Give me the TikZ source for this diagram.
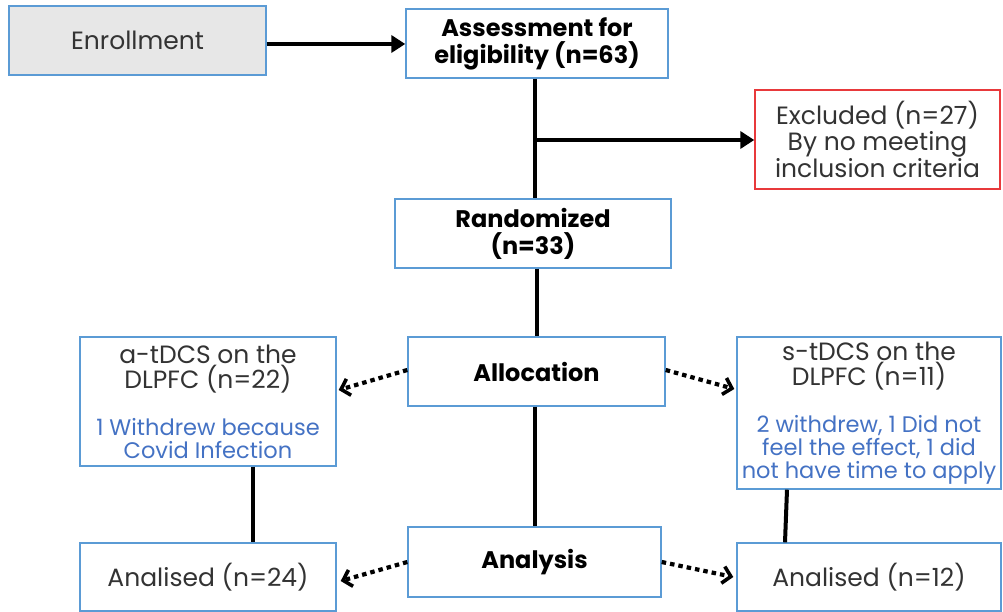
\documentclass[tikz,border=0pt]{standalone}
\usepackage{fontspec}
\setmainfont{Poppins}
\usetikzlibrary{arrows.meta}
\definecolor{boxblue}{HTML}{5B9BD5}
\definecolor{noteblue}{HTML}{4472C4}
\definecolor{exred}{HTML}{E8393B}
\definecolor{enrgray}{HTML}{E7E7E7}
\definecolor{txt}{HTML}{333333}
\newcommand{\notefont}{\fontsize{22.5}{23}\selectfont\color{noteblue}}
\begin{document}
\begin{tikzpicture}[x=1pt,y=-1pt,
  box/.style={draw=boxblue,line width=1.4pt,fill=white,inner sep=0pt,align=center,
    font=\fontsize{25}{25.5}\selectfont,text=txt},
  hdr/.style={box,font=\fontsize{24}{27}\bfseries\selectfont,text=black},
  link/.style={line width=4pt,black},
  solidarrow/.style={link,-{Triangle[length=14pt,width=17pt]}},
  dotarrow/.style={line width=4.2pt,black,dash pattern=on 4.5pt off 4pt,
    -{Straight Barb[length=8pt,width=17pt,line width=3.6pt]}}]
\useasboundingbox (0,0) rectangle (1003,612);
\fill[white] (0,0) rectangle (1003,612);

\node[box,fill=enrgray,minimum width=257pt,minimum height=69pt] (enr) at (137.5,40.5) {Enrollment};
\node[hdr,minimum width=262pt,minimum height=69pt] (assess) at (537,43.5) {Assessment for\\eligibility (n=63)};
\node[box,draw=exred,minimum width=245pt,minimum height=99pt] (excl) at (877.5,139.5) {Excluded (n=27)\\By no meeting\\inclusion criteria};
\node[hdr,minimum width=276pt,minimum height=69pt] (rand) at (533,233.5) {Randomized\\(n=33)};
\node[hdr,minimum width=257pt,minimum height=69pt] (alloc) at (536.5,371.5) {Allocation};
\node[box,minimum width=256pt,minimum height=129pt] (atd) at (208,401.5)
  {a-tDCS on the\\DLPFC (n=22)\\[21pt]{\notefont 1 Withdrew because}\\[-2.5pt]{\notefont Covid Infection}};
\node[box,minimum width=264pt,minimum height=152pt] (std) at (869,413)
  {s-tDCS on the\\DLPFC (n=11)\\[21pt]{\notefont 2 withdrew, 1 Did not}\\[-2.5pt]{\notefont feel the effect, 1 did}\\[-2.5pt]{\notefont not have time to apply}};
\node[hdr,minimum width=253pt,minimum height=70pt] (anal) at (534.5,562) {Analysis};
\node[box,minimum width=256pt,minimum height=68pt] (anl) at (208,577) {Analised (n=24)};
\node[box,minimum width=264pt,minimum height=68pt] (anr) at (869,577) {Analised (n=12)};

\coordinate (split) at (535,140);
\draw[solidarrow] (enr.east |- 0,44) -- (assess.west |- 0,44);
\draw[link] (assess.south -| split) -- (rand.north -| split);
\draw[solidarrow] ([xshift=-2pt]split) -- (excl.west |- split);
\draw[link] (rand.south -| 537,0) -- (alloc.north -| 537,0);
\draw[link] (alloc.south -| 535,0) -- (anal.north -| 535,0);
\draw[link] (atd.south -| 253,0) -- (anl.north -| 253,0);
\draw[link] (std.south -| 787,0) -- (anr.north -| 785,0);
\draw[dotarrow] (alloc.west |- 0,370) -- ([xshift=2pt]atd.east |- 0,390);
\draw[dotarrow] (alloc.east |- 0,370) -- ([xshift=-2pt]std.west |- 0,389);
\draw[dotarrow] (anal.west |- 0,562) -- ([xshift=4pt]anl.east |- 0,581);
\draw[dotarrow] (anal.east |- 0,562) -- ([xshift=-3pt]anr.west |- 0,577);
\end{tikzpicture}
\end{document}
